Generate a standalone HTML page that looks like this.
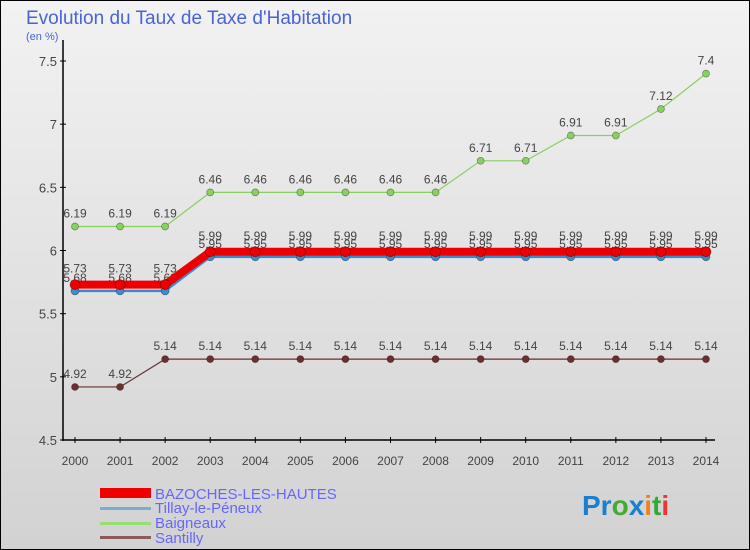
<!DOCTYPE html>
<html><head><meta charset="utf-8"><style>
body{margin:0}
#c{width:750px;height:550px;position:relative;background:linear-gradient(#f2f2f2,#d2d2d2);border:1px solid #000;box-sizing:border-box;overflow:hidden;font-family:"Liberation Sans",sans-serif}
</style></head><body>
<div id="c">
<svg id="s" width="750" height="550" style="position:absolute;left:-1px;top:-1px">
<text x="26" y="24" font-size="19" fill="#4a63d6">Evolution du Taux de Taxe d'Habitation</text>
<text x="26" y="40" font-size="11" fill="#4a63d6">(en %)</text>
<g id="leg" font-size="15" fill="#6666ff">
<rect x="100" y="488" width="51" height="10" fill="#e00"/>
<text x="155" y="499">BAZOCHES-LES-HAUTES</text>
<rect x="100" y="507" width="51" height="3" fill="#7aaed0"/>
<text x="155" y="513">Tillay-le-Péneux</text>
<rect x="100" y="522" width="51" height="3" fill="#99dd77"/>
<text x="155" y="528">Baigneaux</text>
<rect x="100" y="536" width="51" height="3" fill="#8b5a5a"/>
<text x="155" y="543">Santilly</text>
</g>
<text x="582" y="515" font-size="28" font-weight="bold"><tspan fill="#1a7fd0">Pr</tspan><tspan fill="#44aa33">o</tspan><tspan fill="#1a7fd0">x</tspan><tspan fill="#f08020">i</tspan><tspan fill="#33aa33">t</tspan><tspan fill="#ee3333">i</tspan></text>
</svg></div>
<script>
const years=[2000,2001,2002,2003,2004,2005,2006,2007,2008,2009,2010,2011,2012,2013,2014];
const yTicks=[4.5,5,5.5,6,6.5,7,7.5];
const bazoches=[5.73,5.73,5.73,5.99,5.99,5.99,5.99,5.99,5.99,5.99,5.99,5.99,5.99,5.99,5.99];
const tillay=[5.68,5.68,5.68,5.95,5.95,5.95,5.95,5.95,5.95,5.95,5.95,5.95,5.95,5.95,5.95];
const baigneaux=[6.19,6.19,6.19,6.46,6.46,6.46,6.46,6.46,6.46,6.71,6.71,6.91,6.91,7.12,7.4];
const santilly=[4.92,4.92,5.14,5.14,5.14,5.14,5.14,5.14,5.14,5.14,5.14,5.14,5.14,5.14,5.14];
const svg=document.getElementById('s'),NS='http://www.w3.org/2000/svg';
const X=i=>75+i*(706-75)/(years.length-1);
const Y=v=>440-(v-4.5)*(440-61)/3;
function mk(t,a,p){const e=document.createElementNS(NS,t);for(const k in a)e.setAttribute(k,a[k]);(p||svg).appendChild(e);return e;}
let ax=mk('line',{x1:63,y1:40,x2:63,y2:441,stroke:'#000','stroke-width':1.5});


let bx=mk('line',{x1:63,y1:440,x2:715,y2:440,stroke:'#000','stroke-width':1.5});


yTicks.forEach(v=>{mk('line',{x1:60,y1:Y(v),x2:66,y2:Y(v),stroke:'#000'});
 const t=mk('text',{x:57,y:Y(v)+5,'text-anchor':'end','font-size':13,fill:'#444'});t.textContent=String(v);
 
 });
years.forEach((y,i)=>{mk('line',{x1:X(i),y1:437,x2:X(i),y2:443,stroke:'#000'});
 const t=mk('text',{x:X(i),y:465,'text-anchor':'middle','font-size':12,fill:'#444'});t.textContent=y;
 
 });
function series(d,col,w,r,name,dy){
 const pts=d.map((v,i)=>X(i)+','+Y(v)).join(' ');
 const l=mk('polyline',{points:pts,fill:'none',stroke:col,'stroke-width':w});
 
 
 d.forEach((v,i)=>{const c=mk('circle',{cx:X(i),cy:Y(v),r:r,fill:col,stroke:'rgba(0,0,0,0.4)','stroke-width':0.7});
  
  
  const t=mk('text',{x:X(i),y:Y(v)+dy,'text-anchor':'middle','font-size':12,fill:'#444'});t.textContent=String(v);
  
  });
}
series(santilly,'#6b2f2f',1.2,3.5,'santilly',-9);
series(baigneaux,'#88d060',1.2,3.5,'baigneaux',-9);
series(tillay,'#3b8ccc',2.5,4,'tillay',-9);
series(bazoches,'#ee0000',8,5,'bazoches',-12);
</script>
</body></html>
